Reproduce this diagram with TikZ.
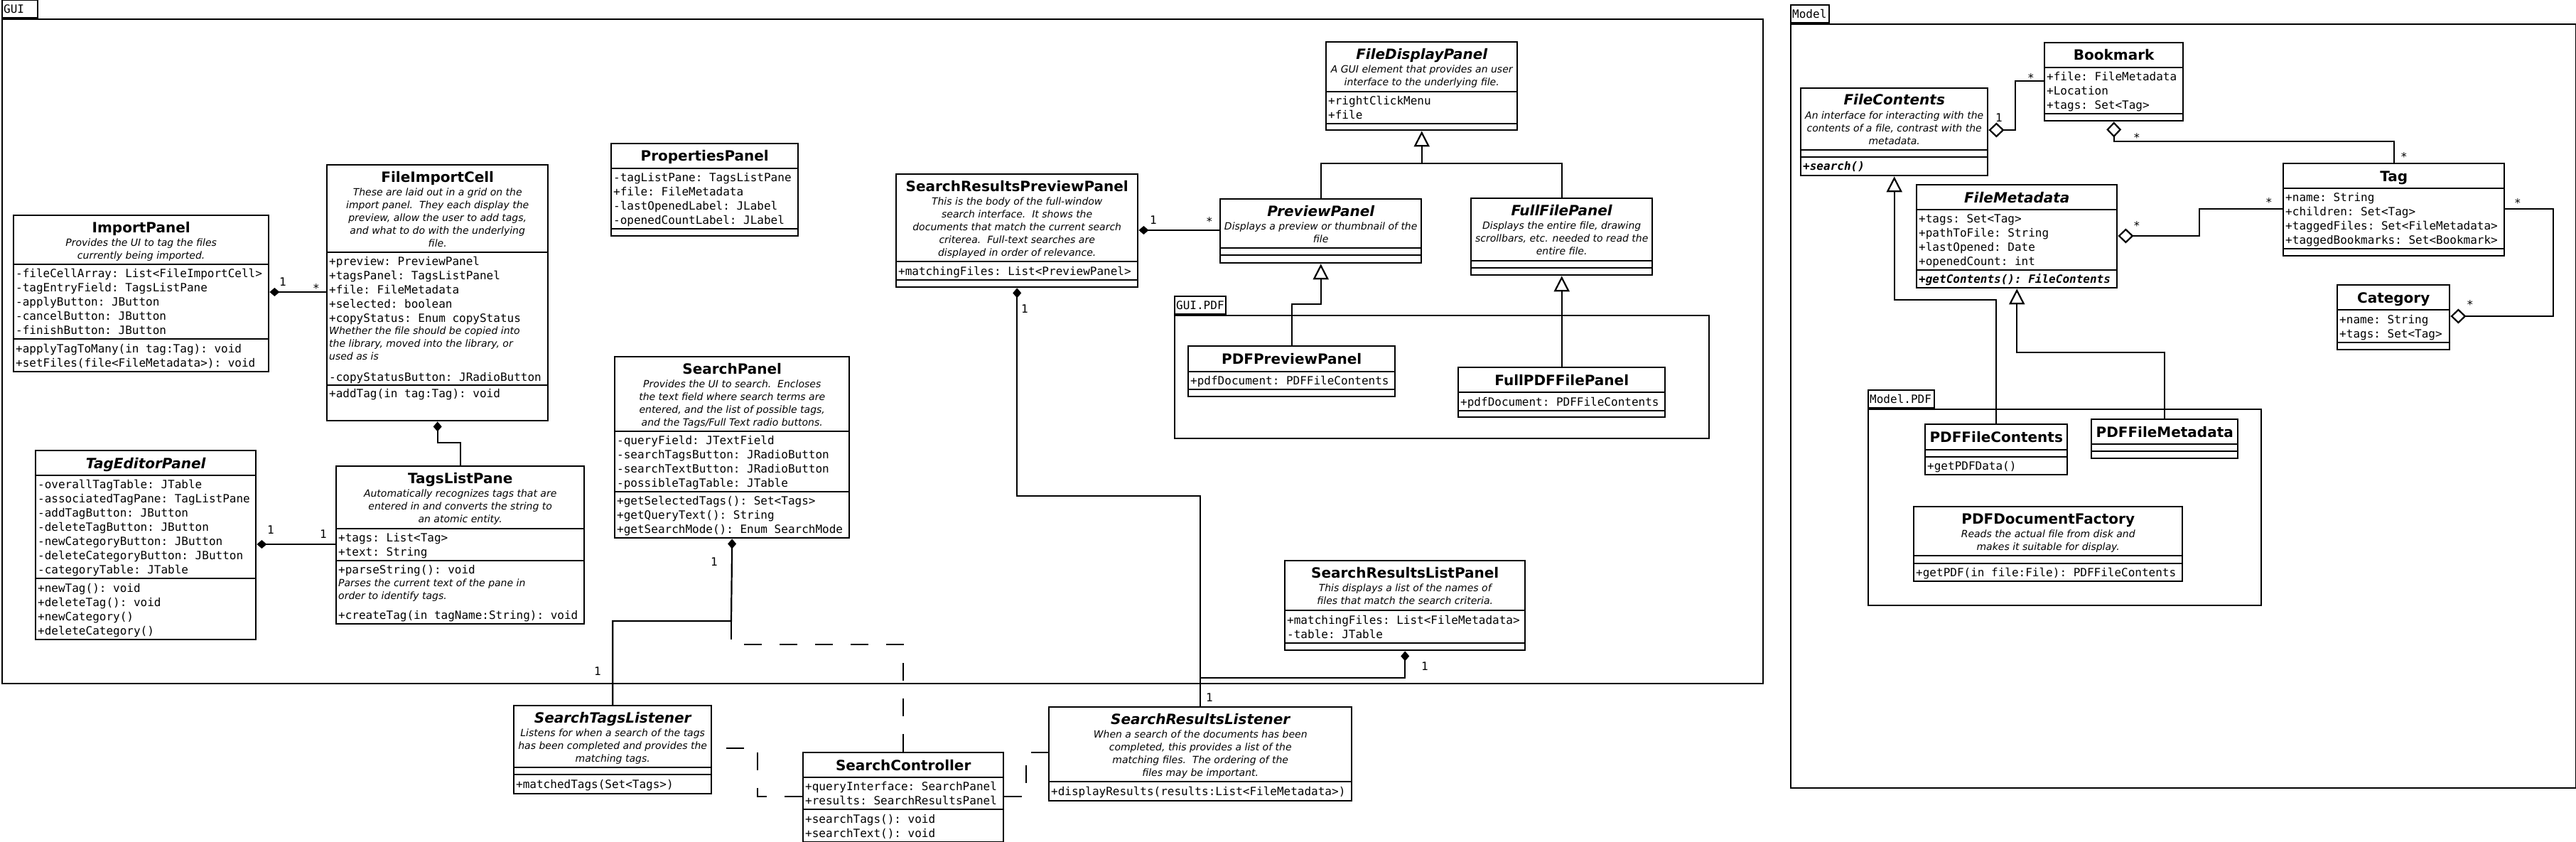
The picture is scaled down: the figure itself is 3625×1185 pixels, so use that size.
\documentclass[tikz,border=0pt]{standalone}
\usepackage{fontspec}
\setmainfont{DejaVu Sans}
\setmonofont{DejaVu Sans Mono}
\usetikzlibrary{shapes.multipart, arrows.meta}

\newdimen\clw
\newcommand\ttlfont{\fontsize{20}{26}\selectfont\bfseries}
\newcommand\dscfont{\fontsize{14}{18}\selectfont\itshape}
\newcommand\memfont{\ttfamily\fontsize{16}{20}\selectfont}
\newcommand\cpt[2]{\vbox to \dimexpr#1pt-2.4pt\relax{\offinterlineskip\hbox to\clw{}\vss#2\vss}}
\newcommand\ttl[1]{\hbox to\clw{\hss\ttlfont\rule[-5.7pt]{0pt}{26pt}#1\hss}}
\newcommand\dsc[1]{\hbox to\clw{\hss\dscfont\rule[-4.4pt]{0pt}{18pt}#1\hss}}
\newcommand\mem[1]{\hbox to\clw{\hskip3pt\memfont\rule[-4.2pt]{0pt}{20pt}#1\hss}}
\newcommand\cmt[1]{\hbox to\clw{\hskip3pt\dscfont\rule[-4.4pt]{0pt}{18pt}#1\hss}}

\begin{document}
\begin{tikzpicture}[x=1pt, y=-1pt,
    umlclass/.style={rectangle split, rectangle split parts=3, draw, line width=2.4pt, fill=white, inner sep=0pt, anchor=north west},
    cw/.code={\global\clw=#1pt},
    pkg/.style={draw, line width=2.4pt, inner sep=0pt, anchor=north west},
    pkgtab/.style={draw, line width=2.4pt, anchor=south west, inner xsep=2pt, inner ysep=0pt, minimum height=25pt, align=left, font=\memfont},
    comp/.style={line width=2.2pt, -{Diamond[length=14pt, width=12pt]}},
    aggr/.style={line width=2.2pt, -{Diamond[length=22pt, width=21pt, fill=white]}},
    gen/.style={line width=2.2pt, -{Triangle[length=22pt, width=22pt, fill=white]}},
    dep/.style={line width=2.2pt, dash pattern=on 25pt off 25pt},
    mult/.style={font=\memfont, inner sep=0pt}]
      \useasboundingbox (0,0) rectangle (3625,1185);

      \node[pkg, minimum width=2478pt, minimum height=935pt] (GUI) at (2,26) {};
      \node[pkgtab, text width=46pt] (GUItab) at (GUI.north west) {GUI};
      \node[pkg, minimum width=752pt, minimum height=173pt] (GUIPDF) at (1652,443) {};
      \node[pkgtab, text width=68pt] (GUIPDFtab) at (GUIPDF.north west) {GUI.PDF};
      \node[pkg, minimum width=1105pt, minimum height=1075pt] (Model) at (2519,33) {};
      \node[pkgtab, text width=50pt] (Modeltab) at (Model.north west) {Model};
      \node[pkg, minimum width=553pt, minimum height=276pt] (ModelPDF) at (2628,575) {};
      \node[pkgtab, text width=89pt] (ModelPDFtab) at (ModelPDF.north west) {Model.PDF};

      \node[umlclass, cw=359] (ImportPanel) at (18,302) {%
        \cpt{69}{\ttl{ImportPanel}\dsc{Provides the UI to tag the files}\dsc{currently being imported.}}%
        \nodepart{two}\cpt{105}{\mem{-fileCellArray: List<FileImportCell>}\mem{-tagEntryField: TagsListPane}\mem{-applyButton: JButton}\mem{-cancelButton: JButton}\mem{-finishButton: JButton}}%
        \nodepart{three}\cpt{46}{\mem{+applyTagToMany(in tag:Tag): void}\mem{+setFiles(file<FileMetadata>): void}}};
      \node[umlclass, cw=311] (FileImportCell) at (459,231) {%
        \cpt{123}{\ttl{FileImportCell}\dsc{These are laid out in a grid on the}\dsc{import panel.\ \ They each display the}\dsc{preview, allow the user to add tags,}\dsc{and what to do with the underlying}\dsc{file.}}%
        \nodepart{two}\cpt{187}{\mem{+preview: PreviewPanel}\mem{+tagsPanel: TagsListPanel}\mem{+file: FileMetadata}\mem{+selected: boolean}\mem{+copyStatus: Enum copyStatus}\cmt{Whether the file should be copied into}\cmt{the library, moved into the library, or}\cmt{used as is}\vskip9pt\mem{-copyStatusButton: JRadioButton}}%
        \nodepart{three}\cpt{50}{\mem{+addTag(in tag:Tag): void}\vskip28pt}};
      \node[umlclass, cw=349] (TagsListPane) at (472,655) {%
        \cpt{88}{\ttl{TagsListPane}\dsc{Automatically recognizes tags that are}\dsc{entered in and converts the string to}\dsc{an atomic entity.}}%
        \nodepart{two}\cpt{45}{\mem{+tags: List<Tag>}\mem{+text: String}}%
        \nodepart{three}\cpt{89}{\mem{+parseString(): void}\cmt{Parses the current text of the pane in}\cmt{order to identify tags.}\vskip8pt\mem{+createTag(in tagName:String): void}}};
      \node[umlclass, cw=310] (TagEditorPanel) at (49,633) {%
        \cpt{35}{\ttl{\itshape TagEditorPanel}}%
        \nodepart{two}\cpt{145}{\mem{-overallTagTable: JTable}\mem{-associatedTagPane: TagListPane}\mem{-addTagButton: JButton}\mem{-deleteTagButton: JButton}\mem{-newCategoryButton: JButton}\mem{-deleteCategoryButton: JButton}\mem{-categoryTable: JTable}}%
        \nodepart{three}\cpt{86}{\mem{+newTag(): void}\mem{+deleteTag(): void}\mem{+newCategory()}\mem{+deleteCategory()}}};
      \node[umlclass, cw=263] (PropertiesPanel) at (859,201) {%
        \cpt{35}{\ttl{PropertiesPanel}}%
        \nodepart{two}\cpt{85}{\mem{-tagListPane: TagsListPane}\mem{+file: FileMetadata}\mem{-lastOpenedLabel: JLabel}\mem{-openedCountLabel: JLabel}}%
        \nodepart{three}\cpt{10}{}};
      \node[umlclass, cw=330] (SearchPanel) at (864,501) {%
        \cpt{105}{\ttl{SearchPanel}\dsc{Provides the UI to search.\ \ Encloses}\dsc{the text field where search terms are}\dsc{entered, and the list of possible tags,}\dsc{and the Tags/Full Text radio buttons.}}%
        \nodepart{two}\cpt{85}{\mem{-queryField: JTextField}\mem{-searchTagsButton: JRadioButton}\mem{-searchTextButton: JRadioButton}\mem{-possibleTagTable: JTable}}%
        \nodepart{three}\cpt{65}{\mem{+getSelectedTags(): Set<Tags>}\mem{+getQueryText(): String}\mem{+getSearchMode(): Enum SearchMode}}};
      \node[umlclass, cw=340] (SearchResultsPreviewPanel) at (1260,244) {%
        \cpt{123}{\ttl{SearchResultsPreviewPanel}\dsc{This is the body of the full-window}\dsc{search interface.\ \ It shows the}\dsc{documents that match the current search}\dsc{criterea.\ \ Full-text searches are}\dsc{displayed in order of relevance.}}%
        \nodepart{two}\cpt{26}{\mem{+matchingFiles: List<PreviewPanel>}}%
        \nodepart{three}\cpt{10}{}};
      \node[umlclass, cw=269] (FileDisplayPanel) at (1865,58) {%
        \cpt{70}{\ttl{\itshape FileDisplayPanel}\dsc{A GUI element that provides an user}\dsc{interface to the underlying file.}}%
        \nodepart{two}\cpt{45}{\mem{+rightClickMenu}\mem{+file}}%
        \nodepart{three}\cpt{9}{}};
      \node[umlclass, cw=283] (PreviewPanel) at (1716,279) {%
        \cpt{69}{\ttl{\itshape PreviewPanel}\dsc{Displays a preview or thumbnail of the}\dsc{file}}%
        \nodepart{two}\cpt{10}{}%
        \nodepart{three}\cpt{11}{}};
      \node[umlclass, cw=255] (FullFilePanel) at (2069,278) {%
        \cpt{88}{\ttl{\itshape FullFilePanel}\dsc{Displays the entire file, drawing}\dsc{scrollbars, etc. needed to read the}\dsc{entire file.}}%
        \nodepart{two}\cpt{10}{}%
        \nodepart{three}\cpt{10}{}};
      \node[umlclass, cw=291] (PDFPreviewPanel) at (1671,486) {%
        \cpt{36}{\ttl{PDFPreviewPanel}}%
        \nodepart{two}\cpt{25}{\mem{+pdfDocument: PDFFileContents}}%
        \nodepart{three}\cpt{10}{}};
      \node[umlclass, cw=291] (FullPDFFilePanel) at (2051,516) {%
        \cpt{35}{\ttl{FullPDFFilePanel}}%
        \nodepart{two}\cpt{26}{\mem{+pdfDocument: PDFFileContents}}%
        \nodepart{three}\cpt{9}{}};
      \node[umlclass, cw=338] (SearchResultsListPanel) at (1807,788) {%
        \cpt{70}{\ttl{SearchResultsListPanel}\dsc{This displays a list of the names of}\dsc{files that match the search criteria.}}%
        \nodepart{two}\cpt{46}{\mem{+matchingFiles: List<FileMetadata>}\mem{-table: JTable}}%
        \nodepart{three}\cpt{10}{}};
      \node[umlclass, cw=278] (SearchTagsListener) at (722,992) {%
        \cpt{87}{\ttl{\itshape SearchTagsListener}\dsc{Listens for when a search of the tags}\dsc{has been completed and provides the}\dsc{matching tags.}}%
        \nodepart{two}\cpt{10}{}%
        \nodepart{three}\cpt{27}{\mem{+matchedTags(Set<Tags>)}}};
      \node[umlclass, cw=282] (SearchController) at (1129,1058) {%
        \cpt{35}{\ttl{SearchController}}%
        \nodepart{two}\cpt{45}{\mem{+queryInterface: SearchPanel}\mem{+results: SearchResultsPanel}}%
        \nodepart{three}\cpt{46}{\mem{+searchTags(): void}\mem{+searchText(): void}}};
      \node[umlclass, rectangle split parts=2, cw=426] (SearchResultsListener) at (1475,994) {%
        \cpt{105}{\ttl{\itshape SearchResultsListener}\dsc{When a search of the documents has been}\dsc{completed, this provides a list of the}\dsc{matching files.\ \ The ordering of the}\dsc{files may be important.}}%
        \nodepart{two}\cpt{27}{\mem{+displayResults(results:List<FileMetadata>)}}};

      \node[umlclass, cw=263] (FileContents) at (2533,123) {%
        \cpt{87}{\ttl{\itshape FileContents}\dsc{An interface for interacting with the}\dsc{contents of a file, contrast with the}\dsc{metadata.}}%
        \nodepart{two}\cpt{10}{}%
        \nodepart{three}\cpt{26}{\mem{\bfseries\itshape +search()}}};
      \node[umlclass, cw=195] (Bookmark) at (2876,59) {%
        \cpt{35}{\ttl{Bookmark}}%
        \nodepart{two}\cpt{65}{\mem{+file: FileMetadata}\mem{+Location}\mem{+tags: Set<Tag>}}%
        \nodepart{three}\cpt{10}{}};
      \node[umlclass, cw=282] (FileMetadata) at (2696,259) {%
        \cpt{35}{\ttl{\itshape FileMetadata}}%
        \nodepart{two}\cpt{85}{\mem{+tags: Set<Tag>}\mem{+pathToFile: String}\mem{+lastOpened: Date}\mem{+openedCount: int}}%
        \nodepart{three}\cpt{25}{\mem{\bfseries\itshape +getContents(): FileContents}}};
      \node[umlclass, cw=311] (Tag) at (3212,229) {%
        \cpt{35}{\ttl{Tag}}%
        \nodepart{two}\cpt{85}{\mem{+name: String}\mem{+children: Set<Tag>}\mem{+taggedFiles: Set<FileMetadata>}\mem{+taggedBookmarks: Set<Bookmark>}}%
        \nodepart{three}\cpt{10}{}};
      \node[umlclass, cw=158] (Category) at (3288,400) {%
        \cpt{35}{\ttl{Category}}%
        \nodepart{two}\cpt{46}{\mem{+name: String}\mem{+tags: Set<Tag>}}%
        \nodepart{three}\cpt{10}{}};
      \node[umlclass, cw=200] (PDFFileContents) at (2708,596) {%
        \cpt{36}{\ttl{PDFFileContents}}%
        \nodepart{two}\cpt{10}{}%
        \nodepart{three}\cpt{25}{\mem{+getPDFData()}}};
      \node[umlclass, cw=206] (PDFFileMetadata) at (2942,589) {%
        \cpt{35}{\ttl{PDFFileMetadata}}%
        \nodepart{two}\cpt{10}{}%
        \nodepart{three}\cpt{10}{}};
      \node[umlclass, cw=378] (PDFDocumentFactory) at (2692,712) {%
        \cpt{69}{\ttl{PDFDocumentFactory}\dsc{Reads the actual file from disk and}\dsc{makes it suitable for display.}}%
        \nodepart{two}\cpt{11}{}%
        \nodepart{three}\cpt{25}{\mem{+getPDF(in file:File): PDFFileContents}}};

      \draw[comp] (FileImportCell.west |- 0,411) -- (ImportPanel.east |- 0,411);
      \draw[comp] (TagsListPane.north) -- ++(0,-32) -| (FileImportCell.south);
      \draw[comp] (TagsListPane.west |- 0,766) -- (TagEditorPanel.east |- 0,766);
      \draw[comp] (PreviewPanel.west |- 0,324) -- (SearchResultsPreviewPanel.east |- 0,324);
      \draw[gen] (PreviewPanel.north) |- (FileDisplayPanel.south |- 0,230) -- (FileDisplayPanel.south);
      \draw[line width=2.2pt] (FullFilePanel.north) |- (FileDisplayPanel.south |- 0,230);
      \draw[gen] (PDFPreviewPanel.north) -- ++(0,-58) -| (PreviewPanel.south);
      \draw[gen] (FullPDFFilePanel.north) -- (FullFilePanel.south);
      \draw[dep] (SearchController.north) |- (1029,907) -- (1029,874);
      \draw[dep] (SearchController.west |- 0,1121) -- (1066,1121) |- (SearchTagsListener.east |- 0,1053);
      \draw[dep] (SearchController.east |- 0,1121) -- (1444,1121) |- (SearchResultsListener.west |- 0,1059);
      \draw[comp] (SearchTagsListener.north) |- (1029,874) -- (SearchPanel.south);
      \draw[comp] (SearchResultsListener.north) -- (SearchResultsListener.north |- 0,698) -| (SearchResultsPreviewPanel.south);
      \draw[comp] (SearchResultsListener.north |- 0,954) -| (SearchResultsListPanel.south);

      \draw[aggr] (Bookmark.west |- 0,114) -- (2836,114) |- (FileContents.east |- 0,183);
      \draw[aggr] (Tag.north) |- (Bookmark.south |- 0,199) -- (Bookmark.south);
      \draw[aggr] (Tag.west |- 0,294) -- (3095,294) |- (FileMetadata.east |- 0,332);
      \draw[aggr] (Tag.east |- 0,294) -- (3593,294) |- (Category.east |- 0,445);
      \draw[gen] (PDFFileContents.north) |- (FileContents.south |- 0,422) -- (FileContents.south);
      \draw[gen] (PDFFileMetadata.north) |- (FileMetadata.south |- 0,496) -- (FileMetadata.south);

      \foreach \n/\x/\y/\t in {1/398/397/1, 2/445/406/*, 3/381/746/1, 4/455/752/1, 5/1623/310/1,
          6/1702/312/*, 7/1442/435/1, 8/1702/982/1, 9/2005/938/1, 10/1005/791/1, 11/841/945/1,
          12/2813/166/1, 13/2858/110/*, 14/3007/194/*, 15/3383/221/*, 16/3007/318/*,
          17/3193/285/*, 18/3543/286/*, 19/3476/429/*}
        \node[mult] (m\n) at (\x,\y) {\t};
    \end{tikzpicture}
\end{document}
